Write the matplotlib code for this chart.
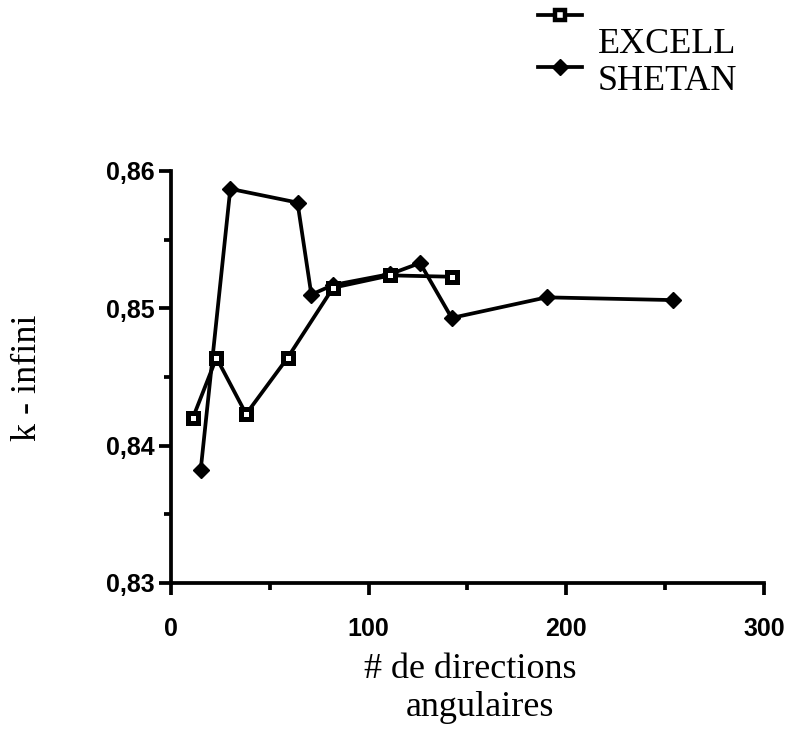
import numpy as np
import matplotlib
matplotlib.use("Agg")
import matplotlib.pyplot as plt
from matplotlib.lines import Line2D
from matplotlib.ticker import FixedLocator, FuncFormatter

# EXCELL and SHETAN k-infini vs number of angular directions
excell_x = [11, 23, 38, 59, 82, 111, 142]
excell_y = [0.8420, 0.8464, 0.8423, 0.8464, 0.8515, 0.8524, 0.8523]
shetan_x = [15, 30, 64, 71, 82, 111, 126, 142, 190, 254]
shetan_y = [0.8382, 0.8587, 0.8577, 0.8510, 0.8517, 0.8525, 0.8533, 0.8493, 0.8508, 0.8506]

xticks = [0, 100, 200, 300]
yticks = [0.83, 0.84, 0.85, 0.86]

W, H = 794, 738
fig = plt.figure(figsize=(W / 100, H / 100), dpi=100)
ax = fig.add_axes([171 / W, 1 - 583 / H, (764 - 171) / W, (583 - 171) / H])

lw = 2.7
ax.plot(excell_x, excell_y, color="black", lw=lw, marker="s", ms=6.5,
        mfc="white", mec="black", mew=3.6, zorder=4)
ax.plot(shetan_x, shetan_y, color="black", lw=lw, marker="D", ms=8,
        mfc="black", mec="black", zorder=3)

ax.set_xlim(0, 300)
ax.set_ylim(0.83, 0.86)
ax.spines["top"].set_visible(False)
ax.spines["right"].set_visible(False)
for s in ("left", "bottom"):
    ax.spines[s].set_linewidth(2.7)

ax.xaxis.set_major_locator(FixedLocator(xticks))
ax.xaxis.set_minor_locator(FixedLocator([50, 150, 250]))
ax.yaxis.set_major_locator(FixedLocator(yticks))
ax.yaxis.set_minor_locator(FixedLocator([0.835, 0.845, 0.855]))
ax.yaxis.set_major_formatter(FuncFormatter(lambda v, p: ("%.2f" % v).replace(".", ",")))
ax.tick_params(which="major", direction="out", length=8.5, width=2.7)
ax.tick_params(which="minor", direction="out", length=5, width=2.7)
ax.tick_params(axis="x", pad=16)
ax.tick_params(axis="y", pad=3)
for lab in ax.get_xticklabels():
    lab.set_fontfamily("Liberation Sans")
    lab.set_fontweight("bold")
    lab.set_fontsize(18)
for lab in ax.get_yticklabels():
    lab.set_fontfamily("Liberation Sans")
    lab.set_fontweight("bold")
    lab.set_fontsize(18)

serif = "Liberation Serif"
fig.text(470 / W, 1 - 678 / H, "# de directions", ha="center", va="baseline",
         family=serif, fontsize=26)
fig.text(480 / W, 1 - 716 / H, "angulaires", ha="center", va="baseline",
         family=serif, fontsize=26)
fig.text(28 / W, 1 - 378 / H, "k - infini", rotation=90, ha="center", va="center",
         family=serif, fontsize=26)

# legend drawn by hand (markers sit above the text, as in the original)
leg = [("EXCELL", "s", "white", 15, 53), ("SHETAN", "D", "black", 67, 90)]
for name, mk, fc, ym, yb in leg:
    fig.add_artist(Line2D([538 / W, 560 / W, 582 / W], [1 - ym / H] * 3,
                          transform=fig.transFigure, color="black", lw=lw,
                          marker=mk, markevery=[1], ms=7 if mk == "s" else 8,
                          mfc=fc, mec="black", mew=3.2 if mk == "s" else 1))
    fig.text(598 / W, 1 - yb / H, name, ha="left", va="baseline", family=serif, fontsize=26)

fig.savefig("out.png", dpi=100)
